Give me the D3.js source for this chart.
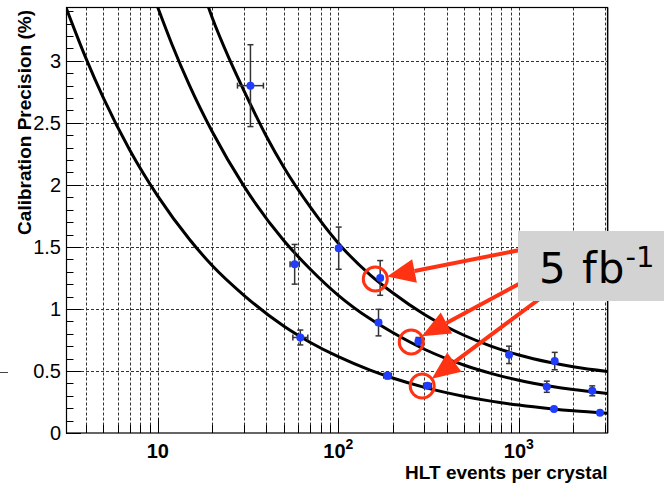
<!DOCTYPE html>
<html><head><meta charset="utf-8">
<script src="https://cdn.jsdelivr.net/npm/d3@7"></script>
<style>body{margin:0;background:#fff}svg{display:block}</style>
</head><body>
<svg id="c" width="664" height="484"></svg>
<script>
// ---- data ----
const xMajorTicks = [10, 100, 1000];
const xTickLabels = ["10", "10|2", "10|3"];
const yTicks = [0, 0.5, 1, 1.5, 2, 2.5, 3];
const yTickLabels = ["0", "0.5", "1", "1.5", "2", "2.5", "3"];

// fitted curves (events, precision %)
const lowerCurveN = [3.1, 4, 5, 7, 10, 15, 20, 30, 50, 70, 100, 150, 200, 300, 500, 700, 1000, 1500, 2000, 3100];
const lowerCurveY = [3.43, 3.02, 2.70, 2.28, 1.91, 1.56, 1.35, 1.11, 0.86, 0.73, 0.615, 0.507, 0.443, 0.368, 0.295, 0.257, 0.225, 0.196, 0.179, 0.160];
const middleCurveN = [9, 10, 12, 15, 20, 30, 50, 70, 100, 150, 200, 300, 500, 700, 1000, 1500, 2000, 3100];
const middleCurveY = [3.61, 3.43, 3.13, 2.80, 2.43, 1.99, 1.55, 1.32, 1.11, 0.92, 0.81, 0.675, 0.546, 0.481, 0.425, 0.377, 0.350, 0.319];
const upperCurveN = [17, 19, 20, 25, 30, 40, 50, 70, 100, 150, 200, 300, 500, 700, 1000, 1500, 2000, 3100];
const upperCurveY = [3.63, 3.44, 3.35, 3.01, 2.76, 2.39, 2.14, 1.82, 1.53, 1.275, 1.13, 0.955, 0.786, 0.701, 0.629, 0.568, 0.534, 0.496];

// measured points
const upperPtsN = [32.6, 100.5, 170.6, 883, 1581];
const upperPtsY = [2.80, 1.49, 1.25, 0.63, 0.58];
const upperPtsYErr = [0.33, 0.17, 0.14, 0.07, 0.07];
const upperPtsXErr = [0.18, 0.03, 0.03, 0.02, 0.02];
const middlePtsN = [57.3, 167, 278, 1429, 2552];
const middlePtsY = [1.36, 0.89, 0.74, 0.373, 0.34];
const middlePtsYErr = [0.16, 0.107, 0.03, 0.045, 0.04];
const middlePtsXErr = [0.06, 0.03, 0.03, 0.02, 0.02];
const lowerPtsN = [61.6, 187.5, 312, 1567, 2817];
const lowerPtsY = [0.77, 0.462, 0.381, 0.194, 0.164];
const lowerPtsYErr = [0.06, 0.025, 0.02, 0.01, 0.01];
const lowerPtsXErr = [0.10, 0.05, 0.05, 0.02, 0.02];

// annotation circles (data units)
const annoN = [160.3, 253.5, 291.6];
const annoY = [1.242, 0.734, 0.379];
const annoLabel = "5 fb";
const annoSup = "-1";

// ---- layout ----
const svg = d3.select("#c");
const L = 66, R = 607.5, T = 7.5, B = 433;
const x = d3.scaleLog().domain([3.1, 3100]).range([L, R]);
const y = d3.scaleLinear().domain([0, 3.43]).range([B, T]);

svg.append("defs").append("clipPath").attr("id", "clip")
  .append("rect").attr("x", L).attr("y", T).attr("width", R - L).attr("height", B - T);

// grid
const xAllTicks = [];
for (let d = 1; d <= 1000; d *= 10) for (let m = 1; m <= 9; m++) { const v = m * d; if (v > 3.1 && v < 3100) xAllTicks.push(v); }
const grid = svg.append("g").attr("stroke", "#000").attr("stroke-width", 1).attr("stroke-dasharray", "3,2").attr("opacity", 0.8);
grid.selectAll("line.vx").data(xAllTicks).join("line")
  .attr("x1", d => Math.round(x(d)) + 0.5).attr("x2", d => Math.round(x(d)) + 0.5).attr("y1", T).attr("y2", B);
grid.selectAll("line.hy").data(yTicks.filter(v => v > 0)).join("line")
  .attr("y1", d => Math.round(y(d)) + 0.5).attr("y2", d => Math.round(y(d)) + 0.5).attr("x1", L).attr("x2", R);

// ticks
const tk = svg.append("g").attr("stroke", "#000").attr("stroke-width", 1);
const yMinor = d3.range(0, 3.41, 0.1);
tk.selectAll("line.ym").data(yMinor).join("line")
  .attr("x1", L).attr("x2", (d, i) => L + (i % 5 === 0 ? 15 : 7.5))
  .attr("y1", d => Math.round(y(d)) + 0.5).attr("y2", d => Math.round(y(d)) + 0.5);
tk.selectAll("line.xm").data(xAllTicks).join("line")
  .attr("x1", d => Math.round(x(d)) + 0.5).attr("x2", d => Math.round(x(d)) + 0.5)
  .attr("y1", B).attr("y2", d => B - (xMajorTicks.includes(d) ? 15 : 8));

// frame
svg.append("rect").attr("x", L + 0.5).attr("y", T).attr("width", R - L - 0.5).attr("height", B - T)
  .attr("fill", "none").attr("stroke", "#000").attr("stroke-width", 1.2);
svg.append("line").attr("x1", R + 1).attr("x2", R + 1).attr("y1", T).attr("y2", B)
  .attr("stroke", "#999").attr("stroke-width", 1);

// curves
const line = d3.line().x(d => x(d[0])).y(d => y(d[1])).curve(d3.curveMonotoneX);
const cg = svg.append("g").attr("clip-path", "url(#clip)").attr("fill", "none").attr("stroke", "#000").attr("stroke-width", 3);
[[lowerCurveN, lowerCurveY], [middleCurveN, middleCurveY], [upperCurveN, upperCurveY]].forEach(([ns, ys]) => {
  cg.append("path").attr("d", line(ns.map((n, i) => [n, ys[i]])));
});

// points
const pg = svg.append("g");
function drawPts(ns, ys, ye, xe) {
  ns.forEach((n, i) => {
    const cx = x(n), cy = y(ys[i]);
    const y1 = y(ys[i] + ye[i]), y2 = y(ys[i] - ye[i]);
    const x1 = x(n / (1 + xe[i])), x2 = x(n * (1 + xe[i]));
    const g = pg.append("g").attr("stroke", "#333").attr("stroke-width", 1.5);
    g.append("line").attr("x1", cx).attr("x2", cx).attr("y1", y1).attr("y2", y2);
    g.append("line").attr("x1", cx - 3).attr("x2", cx + 3).attr("y1", y1).attr("y2", y1);
    g.append("line").attr("x1", cx - 3).attr("x2", cx + 3).attr("y1", y2).attr("y2", y2);
    g.append("line").attr("x1", x1).attr("x2", x2).attr("y1", cy).attr("y2", cy);
    g.append("line").attr("x1", x1).attr("x2", x1).attr("y1", cy - 3).attr("y2", cy + 3);
    g.append("line").attr("x1", x2).attr("x2", x2).attr("y1", cy - 3).attr("y2", cy + 3);
    pg.append("circle").attr("cx", cx).attr("cy", cy).attr("r", 4).attr("fill", "#1f3cff");
  });
}
drawPts(upperPtsN, upperPtsY, upperPtsYErr, upperPtsXErr);
drawPts(middlePtsN, middlePtsY, middlePtsYErr, middlePtsXErr);
drawPts(lowerPtsN, lowerPtsY, lowerPtsYErr, lowerPtsXErr);

// tick labels
const font = "'Liberation Sans', Arial, Helvetica, sans-serif";
svg.append("g").selectAll("text").data(yTicks).join("text")
  .attr("x", 61).attr("y", d => y(d) + 7).attr("text-anchor", "end")
  .attr("font-family", font).attr("font-size", 20).attr("fill", "#000")
  .text((d, i) => yTickLabels[i]);
xMajorTicks.forEach((v, i) => {
  const parts = xTickLabels[i].split("|");
  const t = svg.append("text").attr("x", x(v)).attr("y", 458).attr("text-anchor", "middle")
    .attr("font-family", font).attr("font-weight", "bold").attr("font-size", 20).attr("fill", "#000");
  t.append("tspan").text(parts[0]);
  if (parts[1]) t.append("tspan").attr("dy", -9).attr("font-size", 14).text(parts[1]);
});

// axis titles
svg.append("text").attr("x", R).attr("y", 479).attr("text-anchor", "end")
  .attr("font-family", font).attr("font-weight", "bold").attr("font-size", 19).text("HLT events per crystal");
svg.append("text").attr("transform", "translate(31,10) rotate(-90)").attr("text-anchor", "end")
  .attr("font-family", font).attr("font-weight", "bold").attr("font-size", 19).text("Calibration Precision (%)");

// stray dash at left
svg.append("line").attr("x1", 0).attr("x2", 8).attr("y1", 372.5).attr("y2", 372.5).attr("stroke", "#444").attr("stroke-width", 1);

// annotations
const red = "#ff3314";
const starts = [[530, 248], [530, 278], [565, 280]];
const ag = svg.append("g");
annoN.forEach((n, i) => {
  const cx = x(n), cy = y(annoY[i]), r = 12;
  ag.append("circle").attr("cx", cx).attr("cy", cy).attr("r", r).attr("fill", "none").attr("stroke", red).attr("stroke-width", 3);
  const [sx, sy] = starts[i];
  const dx = sx - cx, dy = sy - cy, len = Math.hypot(dx, dy);
  const ux = dx / len, uy = dy / len;
  const tx = cx + ux * r, ty = cy + uy * r;
  const hl = 28, hw = 12;
  const bx = tx + ux * hl, by = ty + uy * hl;
  ag.append("line").attr("x1", sx).attr("y1", sy).attr("x2", bx).attr("y2", by).attr("stroke", red).attr("stroke-width", 4);
  ag.append("path").attr("d", `M${tx},${ty}L${bx - uy * hw},${by + ux * hw}L${bx + uy * hw},${by - ux * hw}Z`).attr("fill", red);
});
ag.append("rect").attr("x", 518).attr("y", 231).attr("width", 146).attr("height", 70).attr("fill", "#d3d3d3");
const lt = ag.append("text").attr("x", 539).attr("y", 283).attr("font-family", "'DejaVu Sans', Verdana, sans-serif")
  .attr("font-size", 42).attr("fill", "#000");
lt.append("tspan").attr("letter-spacing", 1).attr("word-spacing", 1).text(annoLabel);
lt.append("tspan").attr("dy", -16).attr("font-size", 29).text(annoSup);
</script>
</body></html>
